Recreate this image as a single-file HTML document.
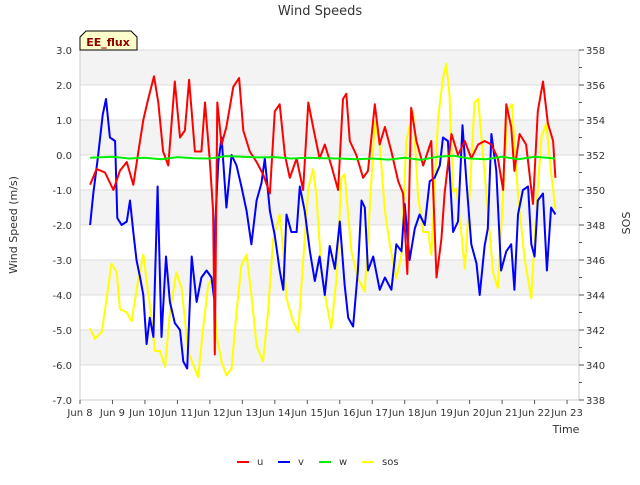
<!DOCTYPE html>
<html><head><meta charset="utf-8"><style>
body{margin:0;background:#fff;font-family:"Liberation Sans","DejaVu Sans",sans-serif}
svg text{font-family:"DejaVu Sans","Liberation Sans",sans-serif}
</style></head><body>
<svg id="chart" width="640" height="480" xmlns="http://www.w3.org/2000/svg">
<text x="320" y="15" text-anchor="middle" font-size="13" fill="#333">Wind Speeds</text>
<g id="bands"></g>
<g id="axes"></g>
<g id="series"></g>
<g>
<path d="M80,50 L80,37 L86,31 L131,31 L137,37 L137,50 Z" fill="#ffffcc" stroke="#000" stroke-width="1"/>
<text x="108" y="46" text-anchor="middle" font-size="11" font-weight="bold" fill="#8b0000">EE_flux</text>
</g>
<text transform="translate(17,225) rotate(-90)" text-anchor="middle" font-size="11" fill="#333">Wind Speed (m/s)</text>
<text transform="translate(630,223) rotate(-90)" text-anchor="middle" font-size="11" fill="#333">SOS</text>
<text x="566" y="433" text-anchor="middle" font-size="11" fill="#333">Time</text>
<g id="legend"></g>
</svg>
<script>
const dayTicks=["Jun 8","Jun 9","Jun 10","Jun 11","Jun 12","Jun 13","Jun 14","Jun 15","Jun 16","Jun 17","Jun 18","Jun 19","Jun 20","Jun 21","Jun 22","Jun 23"];
const leftTicks=[3,2,1,0,-1,-2,-3,-4,-5,-6,-7];
const rightTicks=[338,340,342,344,346,348,350,352,354,356,358];
const uT=[0.31,0.51,0.77,1.03,1.23,1.44,1.64,1.8,1.95,2.1,2.28,2.41,2.56,2.72,2.92,3.08,3.23,3.36,3.54,3.74,3.85,4.0,4.1,4.15,4.23,4.36,4.51,4.72,4.9,5.03,5.23,5.44,5.64,5.85,6.0,6.15,6.31,6.46,6.67,6.87,7.03,7.18,7.38,7.54,7.74,7.95,8.1,8.2,8.31,8.51,8.72,8.87,9.08,9.23,9.39,9.59,9.8,9.95,10.08,10.2,10.36,10.57,10.82,10.98,11.13,11.23,11.44,11.64,11.85,12.05,12.26,12.46,12.67,12.87,13.03,13.13,13.28,13.38,13.54,13.74,13.95,14.1,14.26,14.41,14.57,14.64];
const uV=[-0.85,-0.4,-0.5,-1.0,-0.45,-0.2,-0.85,0.1,1.0,1.6,2.25,1.5,0.1,-0.3,2.1,0.5,0.7,2.15,0.1,0.1,1.5,-0.2,-1.6,-5.7,1.5,0.3,0.8,1.95,2.2,0.7,0.1,-0.2,-0.55,-1.1,1.25,1.45,0.0,-0.65,-0.1,-1.0,1.5,0.8,-0.1,0.3,-0.3,-1.0,1.6,1.75,0.4,0.0,-0.65,-0.45,1.45,0.3,0.8,0.1,-0.75,-1.1,-3.4,1.35,0.4,-0.3,0.4,-3.5,-2.4,-1.1,0.6,0.0,0.4,-0.1,0.3,0.4,0.3,-0.1,-1.0,1.45,0.8,-0.45,0.6,0.3,-1.4,1.25,2.1,0.9,0.4,-0.65];
const vT=[0.31,0.41,0.56,0.7,0.8,0.92,1.08,1.15,1.28,1.44,1.54,1.64,1.74,1.85,1.95,2.05,2.15,2.26,2.39,2.51,2.65,2.77,2.92,3.08,3.18,3.3,3.44,3.59,3.74,3.9,4.05,4.13,4.17,4.26,4.36,4.51,4.67,4.82,4.97,5.13,5.28,5.44,5.59,5.69,5.85,6.0,6.15,6.26,6.36,6.51,6.67,6.77,6.92,7.08,7.23,7.38,7.54,7.69,7.85,8.0,8.15,8.26,8.41,8.56,8.67,8.77,8.87,9.03,9.23,9.39,9.59,9.74,9.9,10.0,10.15,10.31,10.46,10.62,10.77,10.92,11.08,11.18,11.33,11.49,11.64,11.78,11.9,12.05,12.21,12.31,12.46,12.56,12.67,12.82,12.97,13.13,13.28,13.38,13.49,13.64,13.8,13.9,14.0,14.1,14.26,14.38,14.51,14.64];
const vV=[-2.0,-1.1,0.0,1.15,1.6,0.5,0.4,-1.8,-2.0,-1.9,-1.3,-2.2,-3.0,-3.5,-4.0,-5.4,-4.65,-5.2,-0.9,-5.2,-2.9,-4.2,-4.8,-5.0,-5.9,-6.1,-2.9,-4.2,-3.5,-3.3,-3.5,-4.1,-1.9,-0.2,0.5,-1.5,0.0,-0.3,-0.9,-1.6,-2.55,-1.3,-0.8,-0.1,-1.6,-2.3,-3.3,-3.85,-1.7,-2.2,-2.2,-0.9,-1.6,-2.75,-3.6,-2.9,-4.0,-2.6,-3.25,-1.9,-3.7,-4.65,-4.9,-3.3,-1.3,-1.5,-3.3,-2.9,-3.85,-3.5,-3.85,-2.55,-2.75,-1.4,-3.0,-2.1,-1.7,-2.0,-0.75,-0.65,-0.3,0.5,0.4,-2.2,-1.9,0.85,-0.75,-2.55,-3.1,-4.0,-2.6,-2.1,0.6,-0.45,-3.3,-2.75,-2.55,-3.85,-1.7,-1.0,-0.9,-2.55,-2.9,-1.3,-1.1,-3.3,-1.5,-1.7];
const wT=[0.31,1.0,1.5,2.0,2.5,3.0,3.5,4.0,4.5,5.0,5.5,6.0,6.5,7.0,7.5,8.0,8.5,9.0,9.5,10.0,10.5,11.0,11.5,12.0,12.5,13.0,13.5,14.0,14.64];
const wV=[-0.08,-0.05,-0.1,-0.08,-0.12,-0.06,-0.09,-0.1,-0.03,-0.05,-0.07,-0.06,-0.1,-0.08,-0.09,-0.1,-0.12,-0.1,-0.13,-0.08,-0.14,-0.05,-0.02,-0.1,-0.12,-0.05,-0.12,-0.05,-0.1];
const sT=[0.31,0.46,0.67,0.82,0.97,1.13,1.23,1.44,1.59,1.8,1.95,2.15,2.31,2.46,2.62,2.77,2.97,3.13,3.33,3.49,3.64,3.79,3.95,4.1,4.2,4.36,4.51,4.67,4.82,4.97,5.13,5.28,5.44,5.64,5.79,5.95,6.15,6.26,6.36,6.56,6.72,6.87,7.03,7.18,7.28,7.44,7.6,7.74,7.9,8.05,8.15,8.36,8.56,8.77,8.92,9.08,9.23,9.39,9.54,9.74,9.9,10.05,10.26,10.41,10.57,10.72,10.82,11.03,11.18,11.28,11.38,11.49,11.59,11.74,11.85,12.0,12.15,12.26,12.41,12.56,12.72,12.87,13.03,13.16,13.3,13.49,13.69,13.9,14.05,14.21,14.36,14.51,14.64];
const sV=[342.1,341.5,341.9,343.8,345.8,345.3,343.2,343.0,342.5,344.95,346.3,343.4,340.8,340.8,339.9,343.0,345.3,344.4,340.8,340.0,339.3,342.1,344.6,344.95,341.7,340.2,339.4,339.8,343.0,345.7,346.3,344.0,341.1,340.2,343.0,347.2,348.6,346.5,343.8,342.5,341.9,345.9,350.1,351.2,349.7,345.3,343.4,342.1,344.95,350.7,350.9,346.5,344.95,344.2,348.8,353.9,352.6,348.8,346.9,344.95,346.3,352.8,354.5,349.7,347.6,347.6,346.3,354.1,356.4,357.2,355.4,349.9,350.1,347.6,345.5,349.7,355.0,355.2,352.0,348.8,345.3,344.4,349.7,354.5,354.9,349.7,346.1,343.8,348.8,353.0,353.8,351.0,348.9];

const NS='http://www.w3.org/2000/svg';
const X0=80,X1=579,Y0=50,Y1=400;
const xs=d=>80+d*32.47;
const yL=v=>Y0+(3-v)*(Y1-Y0)/10;
const yR=v=>Y0+(358-v)*(Y1-Y0)/20;
function mk(tag,attrs,parent){const e=document.createElementNS(NS,tag);for(const k in attrs)e.setAttribute(k,attrs[k]);parent.appendChild(e);return e;}
const bands=document.getElementById('bands');
const r0=mk('rect',{x:X0,y:Y0,width:X1-X0,height:Y1-Y0,fill:'#fff'},bands);


for(let v=3;v>-7;v-=2){const r=mk('rect',{x:X0,y:yL(v),width:X1-X0,height:yL(v-1)-yL(v),fill:'#f3f3f3'},bands);

}
const axes=document.getElementById('axes');
leftTicks.forEach(v=>{const y=yL(v);
const g=mk('line',{x1:X0,x2:X1,y1:y,y2:y,stroke:'#dcdcdc','stroke-width':1},axes);


const t=mk('text',{x:72,y:y+4,'text-anchor':'end','font-size':10,fill:'#333'},axes);t.textContent=v.toFixed(1);

});
mk('line',{x1:X0,x2:X0,y1:Y0,y2:Y1,stroke:'#ccc'},axes);
mk('line',{x1:X1,x2:X1,y1:Y0,y2:Y1,stroke:'#ccc'},axes);
mk('line',{x1:X0,x2:X1,y1:Y1,y2:Y1,stroke:'#ccc'},axes);
for(let v=338;v<=358;v++){const y=yR(v);mk('line',{x1:X1,x2:X1+(v%2?3:5),y1:y,y2:y,stroke:'#555'},axes);}
rightTicks.forEach(v=>{const t=mk('text',{x:586,y:yR(v)+4,'font-size':10,fill:'#333'},axes);t.textContent=v;

});
dayTicks.forEach((s,i)=>{const x=xs(i);mk('line',{x1:x,x2:x,y1:Y1,y2:Y1+4,stroke:'#555'},axes);
const t=mk('text',{x:x,y:Y1+16,'text-anchor':'middle','font-size':10,fill:'#333'},axes);t.textContent=s;

});
const ser=document.getElementById('series');
function line(T,V,ys,color,name){const p=T.map((t,i)=>xs(t).toFixed(1)+','+ys(V[i]).toFixed(1)).join(' ');
const e=mk('polyline',{points:p,fill:'none',stroke:color,'stroke-width':2,'stroke-linejoin':'round'},ser);

}
line(sT,sV,yR,'#ffff00','sos-line');
line(vT,vV,yL,'#0000ff','v-line');
line(uT,uV,yL,'#ff0000','u-line');
line(wT,wV,yL,'#00ee00','w-line');
const leg=document.getElementById('legend');
[['u','#ff0000',237],['v','#0000ff',278],['w','#00ee00',319],['sos','#ffff00',362]].forEach(([n,c,x])=>{
const g=mk('g',{},leg);


mk('line',{x1:x,x2:x+12,y1:462,y2:462,stroke:c,'stroke-width':2},g);
const t=mk('text',{x:x+20,y:465,'font-size':10,fill:'#333'},g);t.textContent=n;});
</script>
</body></html>
